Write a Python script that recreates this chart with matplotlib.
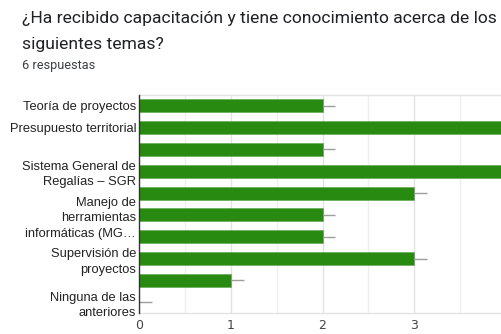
import matplotlib.pyplot as plt
import numpy as np

# Bar rows (top to bottom) and their counts
counts = [2, 4, 2, 4, 3, 2, 2, 3, 1, 0]
# Category labels and the bar row each one is centred on
label_rows = [0, 1, 3, 5, 7, 9]
labels = [
    "Teoría de proyectos",
    "Presupuesto territorial",
    "Sistema General de\nRegalías – SGR",
    "Manejo de\nherramientas\ninformáticas (MG…",
    "Supervisión de\nproyectos",
    "Ninguna de las\nanteriores",
]
x_ticks = [0, 1, 2, 3]

W, H = 502, 334
fig = plt.figure(figsize=(W / 100, H / 100), dpi=100)
fig.patch.set_facecolor("white")

# plot area in pixels: x from 139 to 506 (value 4), y from 95 to 313
left, right, top, bottom = 139, 506, 95, 313
ax = fig.add_axes([left / W, 1 - bottom / H, (right - left) / W, (bottom - top) / H])

rows = np.arange(len(counts))
ax.barh(rows, counts, height=0.6, color="#288a10", edgecolor="#5aa84a", linewidth=0.4, zorder=3)

# short grey interval markers at the end of each bar
vals = np.array(counts, dtype=float)
ax.hlines(rows, vals, vals + 0.14, color="#9e9e9e", linewidth=1.0, zorder=4)

ax.set_xlim(0, 4)
ax.set_ylim(len(counts) - 0.5, -0.5)

ax.set_xticks(x_ticks)
ax.set_xticks(np.arange(0.5, 4, 1), minor=True)
ax.tick_params(axis="x", which="both", length=0, pad=4, labelsize=9, labelcolor="#444444")
ax.grid(axis="x", which="major", color="#e3e3e3", linewidth=1.0, zorder=0)
ax.grid(axis="x", which="minor", color="#efefef", linewidth=1.0, zorder=0)

ax.set_yticks(label_rows)
ax.set_yticklabels(labels, fontfamily="Liberation Sans", fontsize=9.3, color="#222222")
for t in ax.get_yticklabels():
    t.set_linespacing(1.4)
ax.tick_params(axis="y", length=0, pad=2)

ax.spines["right"].set_visible(False)
ax.spines["left"].set_color("#333333")
ax.spines["left"].set_linewidth(1.0)
ax.spines["left"].set_zorder(5)
for s in ["top", "bottom"]:
    ax.spines[s].set_color("#e3e3e3")
    ax.spines[s].set_linewidth(1.0)

fig.text(22 / W, 1 - 19 / H, "¿Ha recibido capacitación y tiene conocimiento acerca de los",
         fontfamily="Roboto", fontsize=12.6, color="#202124", va="center", ha="left")
fig.text(22 / W, 1 - 45 / H, "siguientes temas?",
         fontfamily="Roboto", fontsize=12.6, color="#202124", va="center", ha="left")
fig.text(22 / W, 1 - 65 / H, "6 respuestas",
         fontfamily="Roboto", fontsize=9.2, color="#3c4043", va="center", ha="left")

fig.savefig("out.png", dpi=100)
